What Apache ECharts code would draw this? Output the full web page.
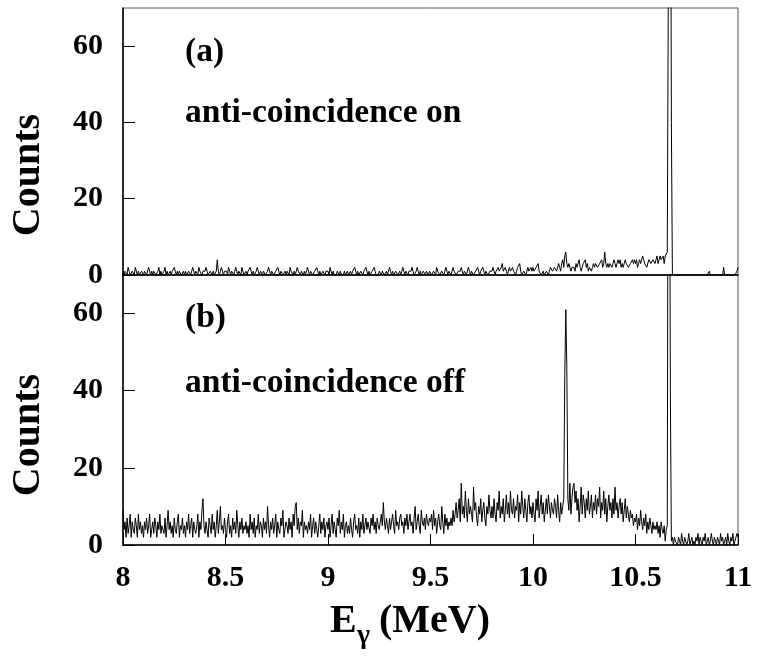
<!DOCTYPE html>
<html>
<head>
<meta charset="utf-8">
<script src="https://cdn.jsdelivr.net/npm/echarts@6/dist/echarts.min.js"></script>
<style>html,body{margin:0;padding:0;background:#fff;}#c{width:759px;height:656px;}</style>
</head>
<body>
<div id="c"></div>
<script>
// Energy calibration: channel i -> E = E0 + i*STEP (MeV)
const E0 = 8.0;
const STEP = 0.005;

// Panel (a): anti-coincidence on (counts per channel, 8.000 ... 11.000 MeV)
const countsOn = [
  1,0,1,1,0,2,1,0,0,1, 1,0,2,1,0,1,0,0,1,1,
  0,1,1,0,0,2,1,0,1,0, 1,1,0,0,1,2,0,1,0,0,
  1,2,0,1,0,0,1,0,1,1, 2,1,0,1,0,1,1,0,0,1,
  0,1,0,0,1,1,0,1,2,1, 0,1,1,0,2,1,1,0,1,1,
  1,2,1,0,0,1,1,0,1,0, 0,1,4,1,0,1,2,1,0,1,
  1,1,0,2,1,0,1,1,0,1, 2,1,0,1,1,0,2,1,0,0,
  1,0,1,1,2,1,0,1,0,0, 1,2,1,0,1,1,0,1,1,0,
  0,1,2,1,0,1,1,0,0,1, 1,2,1,0,1,1,0,0,1,0,
  1,1,0,2,1,1,0,1,0,0, 2,1,1,0,1,1,0,1,0,1,
  2,1,0,1,1,0,0,1,1,2, 1,0,1,0,0,1,1,0,1,1,
  1,0,2,1,0,1,0,0,0,1, 1,0,1,0,0,0,1,0,0,1,
  0,0,1,0,1,1,2,1,0,1, 0,0,1,1,0,1,1,2,1,0,
  1,0,0,1,1,2,1,0,0,0, 1,1,0,1,1,0,0,1,0,1,
  2,1,0,1,0,0,1,1,0,0, 1,0,1,2,1,0,1,1,0,1,
  1,1,2,1,0,0,1,2,1,0, 1,0,0,1,1,0,1,1,0,1,
  1,0,0,1,1,0,2,1,1,0, 0,1,1,0,1,2,1,0,1,1,
  0,1,2,1,1,0,0,1,1,1, 2,1,0,1,1,0,0,2,1,0,
  1,1,0,0,1,1,2,1,0,1, 1,2,1,0,1,1,0,0,1,1,
  1,2,1,0,1,1,2,1,1,2, 3,1,1,2,1,0,1,2,1,1,
  2,1,1,0,1,2,2,3,1,0, 0,1,1,0,1,2,1,1,2,1,
  2,1,1,2,2,3,1,1,0,0, 1,0,0,1,1,0,1,2,2,1,
  1,2,2,1,1,3,2,1,3,4, 2,5,6,3,2,3,2,1,2,2,
  2,1,3,2,3,4,2,1,2,3, 3,4,2,3,1,2,2,1,2,3,
  2,3,3,2,2,3,3,4,2,3, 6,3,2,3,2,3,3,2,3,4,
  3,2,2,4,3,4,2,3,2,3, 4,3,3,2,2,3,3,4,3,4,
  3,4,2,3,4,3,3,5,4,3, 3,2,2,4,4,3,3,4,4,3,
  4,5,3,4,5,4,4,5,3,5, 5,6,6,140,150,40,0,0,0,0,
  0,0,0,0,0,0,0,0,0,0, 0,0,0,0,0,0,0,0,0,0,
  0,0,0,0,0,0,0,0,0,0, 0,0,1,0,0,0,0,0,0,0,
  0,0,0,0,0,0,2,0,0,0, 0,0,0,0,0,0,0,0,0,1,
  2
];

// Panel (b): anti-coincidence off
const countsOff = [
  9,4,6,2,7,3,5,8,2,6, 4,3,7,5,2,8,4,6,3,5,
  2,6,4,7,3,5,8,2,4,6, 3,7,5,2,6,4,8,3,5,4,
  3,7,2,5,9,4,6,3,5,2, 7,4,3,6,8,2,5,4,7,3,
  5,2,6,4,8,3,5,7,2,6, 4,3,5,8,2,6,4,9,12,5,
  3,6,4,2,7,5,3,8,4,6, 2,5,9,3,6,10,4,5,3,7,
  4,2,6,8,3,5,2,7,4,6, 3,9,5,2,6,4,7,3,5,4,
  6,3,5,2,8,4,6,3,7,2, 5,4,8,3,6,5,2,7,4,6,
  3,10,5,2,6,4,7,3,5,8, 2,6,4,3,7,5,9,2,4,6,
  5,3,7,4,6,2,8,5,10,11, 4,7,3,6,5,9,2,6,4,5,
  3,6,4,8,2,5,7,3,6,4, 2,5,8,3,6,4,7,2,5,6,
  4,7,2,5,8,3,6,4,2,7, 5,9,3,6,4,8,2,5,6,3,
  5,3,7,4,2,6,8,4,5,3, 7,2,6,4,8,3,5,7,4,6,
  6,3,7,5,8,4,6,3,7,5, 4,6,8,5,11,6,4,7,5,3,
  7,4,6,8,5,3,9,5,6,4, 7,8,5,6,3,7,5,8,4,6,
  8,5,6,3,7,10,4,6,8,5, 3,9,6,5,7,4,8,6,5,7,
  6,8,4,9,5,7,3,6,8,5, 4,10,6,3,8,5,7,4,6,5,
  7,5,9,6,8,11,7,9,12,6, 16,8,10,7,14,9,6,12,8,10,
  8,6,15,9,11,7,5,10,8,12, 6,9,11,7,5,10,8,13,9,7,
  10,7,12,8,6,11,9,14,7,10, 8,12,6,9,13,8,11,7,14,9,
  8,12,7,10,9,13,6,11,8,14, 10,7,12,9,6,11,13,8,10,7,
  11,8,6,12,9,14,7,10,13,8, 11,6,9,12,8,13,10,7,11,9,
  8,12,10,7,13,9,6,11,8,10, 12,44,61,46,12,9,16,8,12,15,
  16,11,14,9,12,6,10,15,8,13, 11,7,12,9,14,8,10,13,7,11,
  9,13,8,12,10,15,7,11,9,14, 8,12,6,10,13,9,11,7,12,8,
  15,9,11,7,10,12,8,11,6,9, 12,7,10,8,6,9,7,8,5,7,
  6,8,4,7,5,9,6,4,7,5, 8,3,6,4,7,5,3,6,4,5,
  4,6,3,5,2,6,4,3,5,1, 4,5,150,140,40,1,2,0,2,1,
  1,0,2,1,0,3,1,0,2,1, 0,1,3,0,1,2,0,1,0,2,
  1,3,0,2,1,0,2,1,3,0, 1,2,0,1,3,1,0,2,1,0,
  2,1,0,3,1,2,0,1,2,0, 3,1,0,2,1,3,0,1,2,3,
  2
];

const panelLabels = ['(a)', '(b)'];
const panelTexts = ['anti-coincidence on', 'anti-coincidence off'];
const yAxisTitle = 'Counts';

const toPairs = arr => arr.map((v, i) => [+(E0 + i * STEP).toFixed(4), v]);

const FONT = '"Liberation Serif", "Times New Roman", serif';
const labelStyle = { fontSize: 30, fontWeight: 'bold', fontFamily: FONT, color: '#000' };

function yAxisCfg(idx) {
  return {
    gridIndex: idx, type: 'value', min: 0, max: 70, interval: 20,
    axisLine: { show: true, lineStyle: { color: '#000', width: 1.5 } },
    axisTick: { show: true, inside: true, length: 12, lineStyle: { color: '#000', width: 1 } },
    axisLabel: Object.assign({ margin: 20, showMaxLabel: false }, labelStyle),
    splitLine: { show: false }
  };
}

const chart = echarts.init(document.getElementById('c'), null, { renderer: 'canvas' });
chart.setOption({
  animation: false,
  backgroundColor: '#fff',
  grid: [
    { left: 123, right: 21, top: 8, height: 267, show: true, borderColor: '#555', borderWidth: 1, containLabel: false },
    { left: 123, right: 21, top: 275, height: 270, show: true, borderColor: '#555', borderWidth: 1, containLabel: false }
  ],
  xAxis: [
    { gridIndex: 0, type: 'value', min: 8, max: 11, interval: 0.5,
      axisLine: { lineStyle: { color: '#000', width: 1.5 } },
      axisTick: { show: false }, axisLabel: { show: false }, splitLine: { show: false } },
    { gridIndex: 1, type: 'value', min: 8, max: 11, interval: 0.5,
      axisLine: { lineStyle: { color: '#000', width: 1.5 } },
      axisTick: { show: true, inside: true, length: 11, lineStyle: { color: '#000', width: 1 } },
      axisLabel: Object.assign({ margin: 18 }, labelStyle),
      splitLine: { show: false } }
  ],
  yAxis: [yAxisCfg(0), yAxisCfg(1)],
  series: [
    { type: 'line', xAxisIndex: 0, yAxisIndex: 0, data: toPairs(countsOn), showSymbol: false, symbol: 'none',
      lineStyle: { color: '#000', width: 1 }, clip: true, silent: true },
    { type: 'line', xAxisIndex: 1, yAxisIndex: 1, data: toPairs(countsOff), showSymbol: false, symbol: 'none',
      lineStyle: { color: '#000', width: 1 }, clip: true, silent: true }
  ],
  graphic: [
    { type: 'text', x: 185, y: 52, style: { text: panelLabels[0], font: 'bold 33.5px ' + FONT, fill: '#000', textAlign: 'left', textVerticalAlign: 'middle' } },
    { type: 'text', x: 185, y: 113, style: { text: panelTexts[0], font: 'bold 33.5px ' + FONT, fill: '#000', textAlign: 'left', textVerticalAlign: 'middle' } },
    { type: 'text', x: 185, y: 318, style: { text: panelLabels[1], font: 'bold 33.5px ' + FONT, fill: '#000', textAlign: 'left', textVerticalAlign: 'middle' } },
    { type: 'text', x: 185, y: 383, style: { text: panelTexts[1], font: 'bold 33.5px ' + FONT, fill: '#000', textAlign: 'left', textVerticalAlign: 'middle' } },
    { type: 'text', x: 29, y: 175, rotation: Math.PI / 2, style: { text: yAxisTitle, font: 'bold 40px ' + FONT, fill: '#000', textAlign: 'center', textVerticalAlign: 'middle' } },
    { type: 'text', x: 29, y: 435, rotation: Math.PI / 2, style: { text: yAxisTitle, font: 'bold 40px ' + FONT, fill: '#000', textAlign: 'center', textVerticalAlign: 'middle' } },
    { type: 'text', x: 330, y: 622, style: { text: 'E', font: 'bold 40px ' + FONT, fill: '#000', textAlign: 'left', textVerticalAlign: 'middle' } },
    { type: 'text', x: 357, y: 636, style: { text: 'γ', font: 'bold 28px ' + FONT, fill: '#000', textAlign: 'left', textVerticalAlign: 'middle' } },
    { type: 'text', x: 379, y: 622, style: { text: '(MeV)', font: 'bold 40px ' + FONT, fill: '#000', textAlign: 'left', textVerticalAlign: 'middle' } }
  ]
});
</script>
</body>
</html>
